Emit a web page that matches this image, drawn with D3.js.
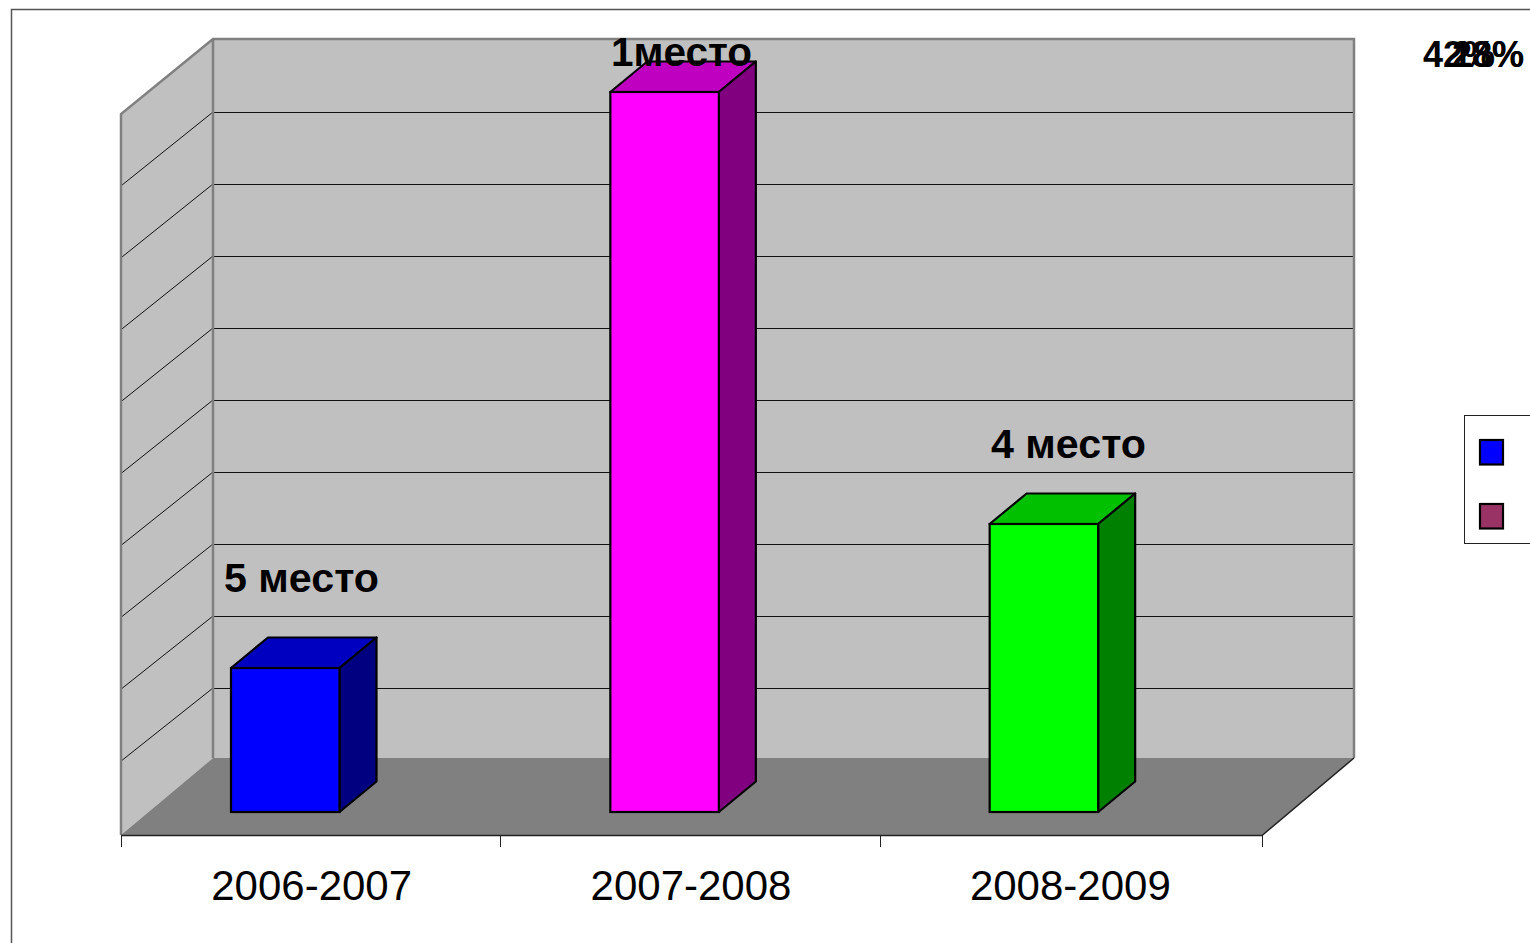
<!DOCTYPE html>
<html><head><meta charset="utf-8">
<script src="https://cdn.jsdelivr.net/npm/d3@7/dist/d3.min.js"></script>
<style>html,body{margin:0;padding:0;background:#fff;overflow:hidden}svg{display:block}text{font-family:"Liberation Sans",Arial,sans-serif;fill:#000}</style>
</head><body><svg width="1530" height="943"></svg>
<script>
const categories = ["2006-2007","2007-2008","2008-2009"];
const values = [2,10,4];
const faceColors = ["#0000ff","#ff00ff","#00ff00"];
const topColors = ["#0000c0","#c000c0","#00c000"];
const sideColors = ["#000080","#800080","#008000"];
const placeLabels = ["5 место","1место","4 место"];
const placeLabelX = [224,611,991];
const placeLabelY = [592,66,458];
const stackedLabels = ["42%","18%","28%"];
const stackedLabelX = [1423,1452,1452];
const legendColors = ["#0000ff","#993366"];
const yTicks = d3.range(0,11);

const svg = d3.select("svg");
const xFront = d3.scaleBand().domain(categories).range([121,1259]);
const yBack = d3.scaleLinear().domain([0,10]).range([760,40]);
const yFront = d3.scaleLinear().domain([0,10]).range([833,114]);
const barDX = 37, barDY = 30.5, barW = 108.5, barInset = 110, barLift = 52;
const poly = (pts)=>pts.map(p=>p.join(",")).join(" ");

// frame
svg.append("path").attr("d","M1530,9.5H11.5V943").attr("fill","none").attr("stroke","#555").attr("stroke-width",1.5);

// walls and floor
svg.append("polygon").attr("points",poly([[213,39],[1354,39],[1354,758],[213,758]])).attr("fill","#c0c0c0");
svg.append("polygon").attr("points",poly([[121,114],[213,39],[213,758],[121,835]])).attr("fill","#c0c0c0");
svg.append("polygon").attr("points",poly([[121,835],[213,758],[1354,758],[1262,835]])).attr("fill","#808080");

// gridlines
const grid = yTicks.slice(1,10);
svg.append("g").selectAll("line").data(grid).join("line")
  .attr("x1",213).attr("x2",1354).attr("y1",d=>Math.round(yBack(d))+.5).attr("y2",d=>Math.round(yBack(d))+.5)
  .attr("stroke","#111").attr("stroke-width",1);
svg.append("g").selectAll("line").data(grid).join("line")
  .attr("x1",121).attr("x2",213).attr("y1",d=>yFront(d)).attr("y2",d=>yBack(d))
  .attr("stroke","#111").attr("stroke-width",1);

// wall edges
svg.append("path").attr("d","M121,835V114L213,39H1354V758M213,39V758").attr("fill","none").attr("stroke","#808080").attr("stroke-width",2.5);
svg.append("path").attr("d","M121,835.5H1262L1354,758").attr("fill","none").attr("stroke","#222").attr("stroke-width",1.5);

// x ticks
const tickX = [...categories.map(c=>xFront(c)),1262];
svg.append("g").selectAll("line").data(tickX).join("line")
  .attr("x1",d=>Math.round(d)+.5).attr("x2",d=>Math.round(d)+.5).attr("y1",835).attr("y2",847).attr("stroke","#222").attr("stroke-width",1);
svg.append("g").selectAll("text").data(categories).join("text")
  .attr("x",c=>xFront(c)+xFront.bandwidth()/2+1).attr("y",900).attr("text-anchor","middle")
  .attr("font-size",42).text(c=>c);

// bars
const bars = svg.append("g").selectAll("g").data(values).join("g");
const bx = (i)=>xFront(categories[i])+barInset;
const by = (v)=>yBack(v)+barLift;
const by0 = yBack(0)+barLift;
bars.append("polygon").attr("points",(v,i)=>poly([[bx(i),by(v)],[bx(i)+barDX,by(v)-barDY],[bx(i)+barW+barDX,by(v)-barDY],[bx(i)+barW,by(v)]]))
  .attr("fill",(v,i)=>topColors[i]).attr("stroke","#000").attr("stroke-width",2.2).attr("stroke-linejoin","round");
bars.append("polygon").attr("points",(v,i)=>poly([[bx(i)+barW,by(v)],[bx(i)+barW+barDX,by(v)-barDY],[bx(i)+barW+barDX,by0-barDY],[bx(i)+barW,by0]]))
  .attr("fill",(v,i)=>sideColors[i]).attr("stroke","#000").attr("stroke-width",2.2).attr("stroke-linejoin","round");
bars.append("rect").attr("x",(v,i)=>bx(i)).attr("y",v=>by(v)).attr("width",barW).attr("height",v=>by0-by(v))
  .attr("fill",(v,i)=>faceColors[i]).attr("stroke","#000").attr("stroke-width",2.2);

// place labels
svg.append("g").selectAll("text").data(placeLabels).join("text")
  .attr("x",(d,i)=>placeLabelX[i]).attr("y",(d,i)=>placeLabelY[i]).attr("font-size",40).attr("font-weight","bold")
  .attr("textLength",(d,i)=>[155,141,155][i]).attr("lengthAdjust","spacingAndGlyphs").text(d=>d);

// stacked percentage labels
svg.append("g").selectAll("text").data(stackedLabels).join("text")
  .attr("x",(d,i)=>stackedLabelX[i]).attr("y",67).attr("font-size",36).attr("font-weight","bold").text(d=>d);

// legend
svg.append("rect").attr("x",1464.5).attr("y",415.5).attr("width",70).attr("height",128).attr("fill","#fff").attr("stroke","#222").attr("stroke-width",1);
svg.append("g").selectAll("rect").data(legendColors).join("rect")
  .attr("x",1480).attr("y",(d,i)=>440+i*64).attr("width",23).attr("height",24.5).attr("fill",d=>d).attr("stroke","#000").attr("stroke-width",2.2);
</script></body></html>
